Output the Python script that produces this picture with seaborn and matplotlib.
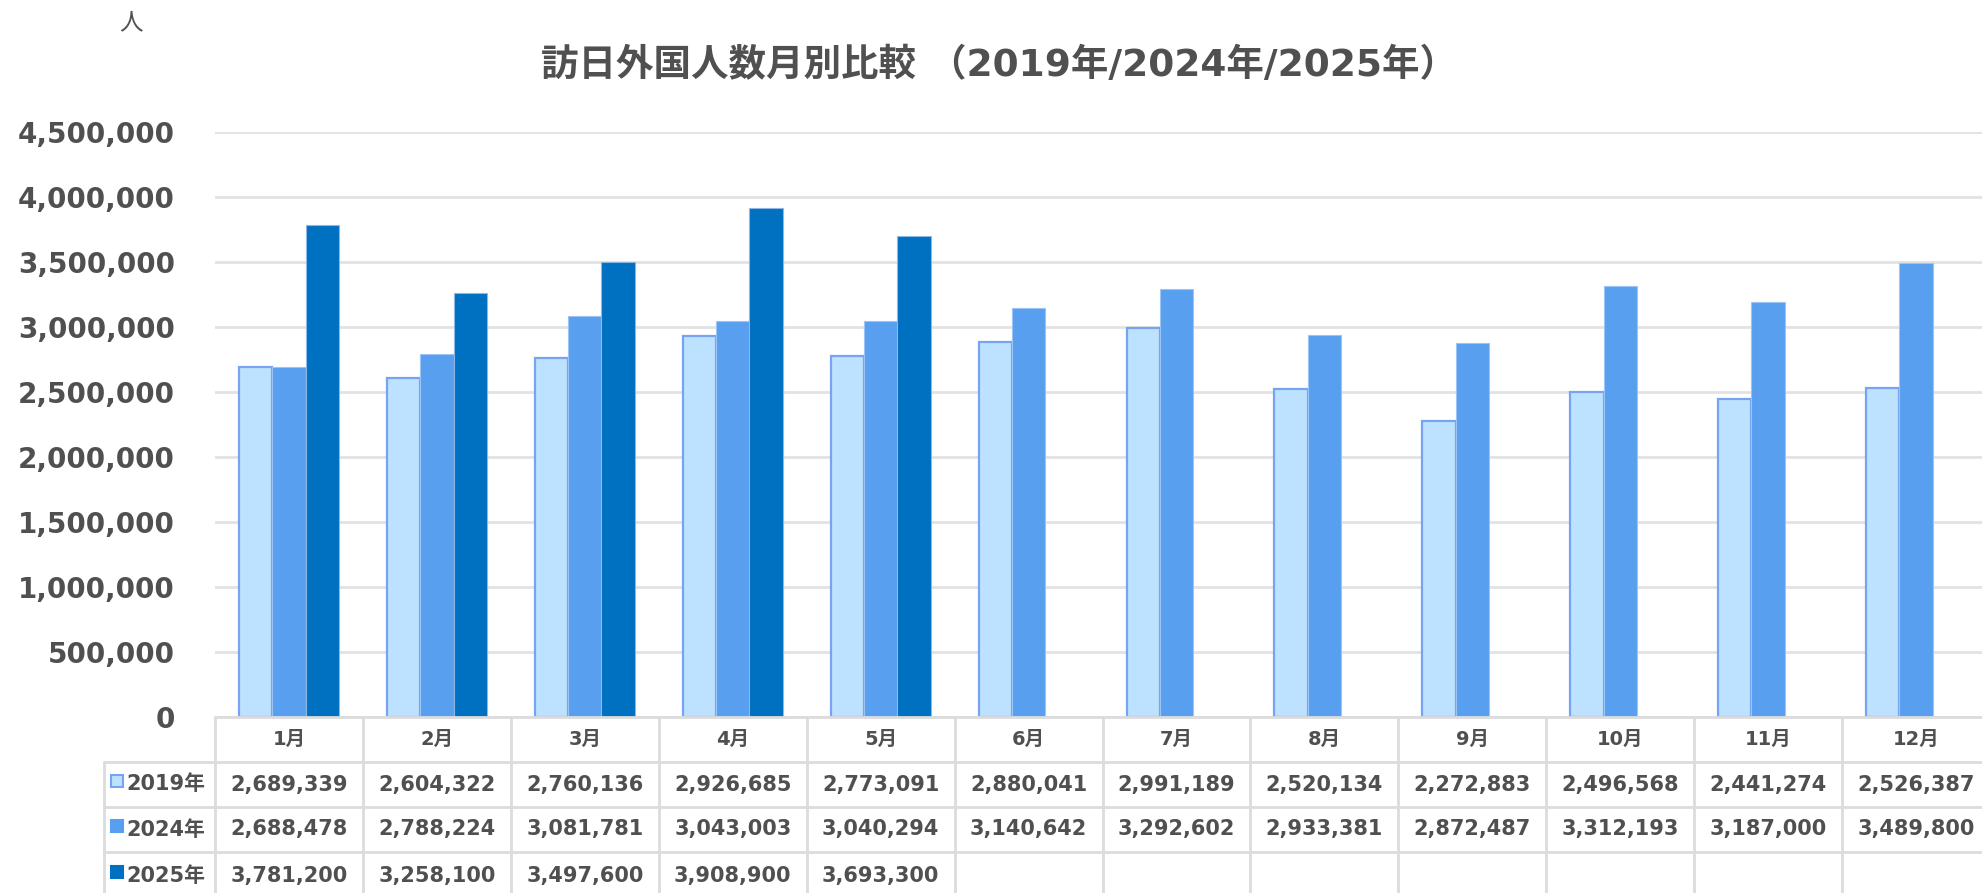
import matplotlib
matplotlib.use('Agg')
import matplotlib.pyplot as plt
import matplotlib.transforms as mtransforms
from matplotlib.lines import Line2D
from matplotlib.patches import Rectangle
import seaborn as sns
import pandas as pd
import numpy as np

months = ['1月', '2月', '3月', '4月', '5月', '6月', '7月', '8月', '9月', '10月', '11月', '12月']
years = ['2019年', '2024年', '2025年']
v2019 = [2689339, 2604322, 2760136, 2926685, 2773091, 2880041,
         2991189, 2520134, 2272883, 2496568, 2441274, 2526387]
v2024 = [2688478, 2788224, 3081781, 3043003, 3040294, 3140642,
         3292602, 2933381, 2872487, 3312193, 3187000, 3489800]
v2025 = [3781200, 3258100, 3497600, 3908900, 3693300] + [np.nan] * 7

colors = ['#BDE2FF', '#589FEF', '#0070C0']
edges = ['#76A3F4', '#9CC5F5', '#8DB8E6']
text_col = '#505050'
grid_col = '#E2E2E2'

sns.set_theme(style='white')
plt.rcParams['font.family'] = ['DejaVu Sans', 'Noto Sans CJK JP']

df = pd.DataFrame({
    '月': months * 3,
    '年': np.repeat(years, len(months)),
    '人数': v2019 + v2024 + v2025,
})

W, H = 1982, 893
fig = plt.figure(figsize=(W / 100, H / 100), dpi=100)
ax_left, ax_right = 215, 1990
y_zero, y_top = 717, 131.5
ax = fig.add_axes([ax_left / W, 1 - y_zero / H, (ax_right - ax_left) / W, (y_zero - y_top) / H])

sns.barplot(data=df, x='月', y='人数', hue='年', order=months, hue_order=years,
            palette=colors, width=0.675, saturation=1, errorbar=None,
            legend=False, ax=ax)
for cont, ec, lw in zip(ax.containers, edges, [1.6, 0.8, 0.8]):
    for bar in cont:
        bar.set_edgecolor(ec)
        bar.set_linewidth(lw)

ax.set_xlim(-0.5, len(months) - 0.5)
ax.set_ylim(0, 4500000)
ticks = list(range(0, 4500001, 500000))
ax.set_yticks(ticks)
ax.set_yticklabels([f'{t:,}' for t in ticks], fontweight='bold')
ax.tick_params(axis='y', length=0, pad=29, labelsize=20, labelcolor=text_col)
ax.set_xticks([])
ax.set_xlabel('')
ax.set_ylabel('')
ax.grid(axis='y', color=grid_col, linewidth=2)
ax.set_axisbelow(True)
for s in ax.spines.values():
    s.set_visible(False)

# title and unit
fig.text(999 / W, 1 - 66 / H, '訪日外国人数月別比較 （2019年/2024年/2025年）',
         ha='center', va='center', fontsize=27, fontweight='bold', color=text_col)
fig.text(131 / W, 1 - 22 / H, '人', ha='center', va='center', fontsize=17, color=text_col)

# data table below the axis
trans = mtransforms.blended_transform_factory(ax.transData, fig.transFigure)
rows_px = [717, 762, 807, 852, 900]
fy = [1 - r / H for r in rows_px]
lab_left = 104 / W
tbl_col = '#DCDCDC'

fig.add_artist(Line2D([ax_left / W, 1], [fy[0], fy[0]], color=tbl_col, lw=2))
for y in fy[1:4]:
    fig.add_artist(Line2D([lab_left, 1], [y, y], color=tbl_col, lw=2))
fig.add_artist(Line2D([lab_left, lab_left], [fy[1], fy[4]], color=tbl_col, lw=2))
for i in range(len(months) + 1):
    ax.add_artist(Line2D([i - 0.5, i - 0.5], [fy[0], fy[4]], color=tbl_col, lw=2,
                         transform=trans, clip_on=False))

for i, m in enumerate(months):
    ax.text(i, (fy[0] + fy[1]) / 2, m, transform=trans, ha='center', va='center',
            fontsize=14, fontweight='bold', color=text_col, clip_on=False)

series = [v2019, v2024, v2025]
for r, (yr, vals, c, ec) in enumerate(zip(years, series, colors, edges)):
    yc = (fy[r + 1] + fy[r + 2]) / 2
    sq = 12
    fig.add_artist(Rectangle((111 / W, yc - 2 / H), sq / W, sq / H, transform=fig.transFigure,
                             facecolor=c, edgecolor=ec if r == 0 else c, lw=1.5))
    fig.text(126 / W, yc, yr, ha='left', va='center', fontsize=15,
             fontweight='bold', color=text_col)
    for i, v in enumerate(vals):
        if pd.notna(v):
            ax.text(i, yc, f'{int(v):,}', transform=trans, ha='center', va='center',
                    fontsize=15, fontweight='bold', color=text_col, clip_on=False)

fig.savefig('out.png', dpi=100)
